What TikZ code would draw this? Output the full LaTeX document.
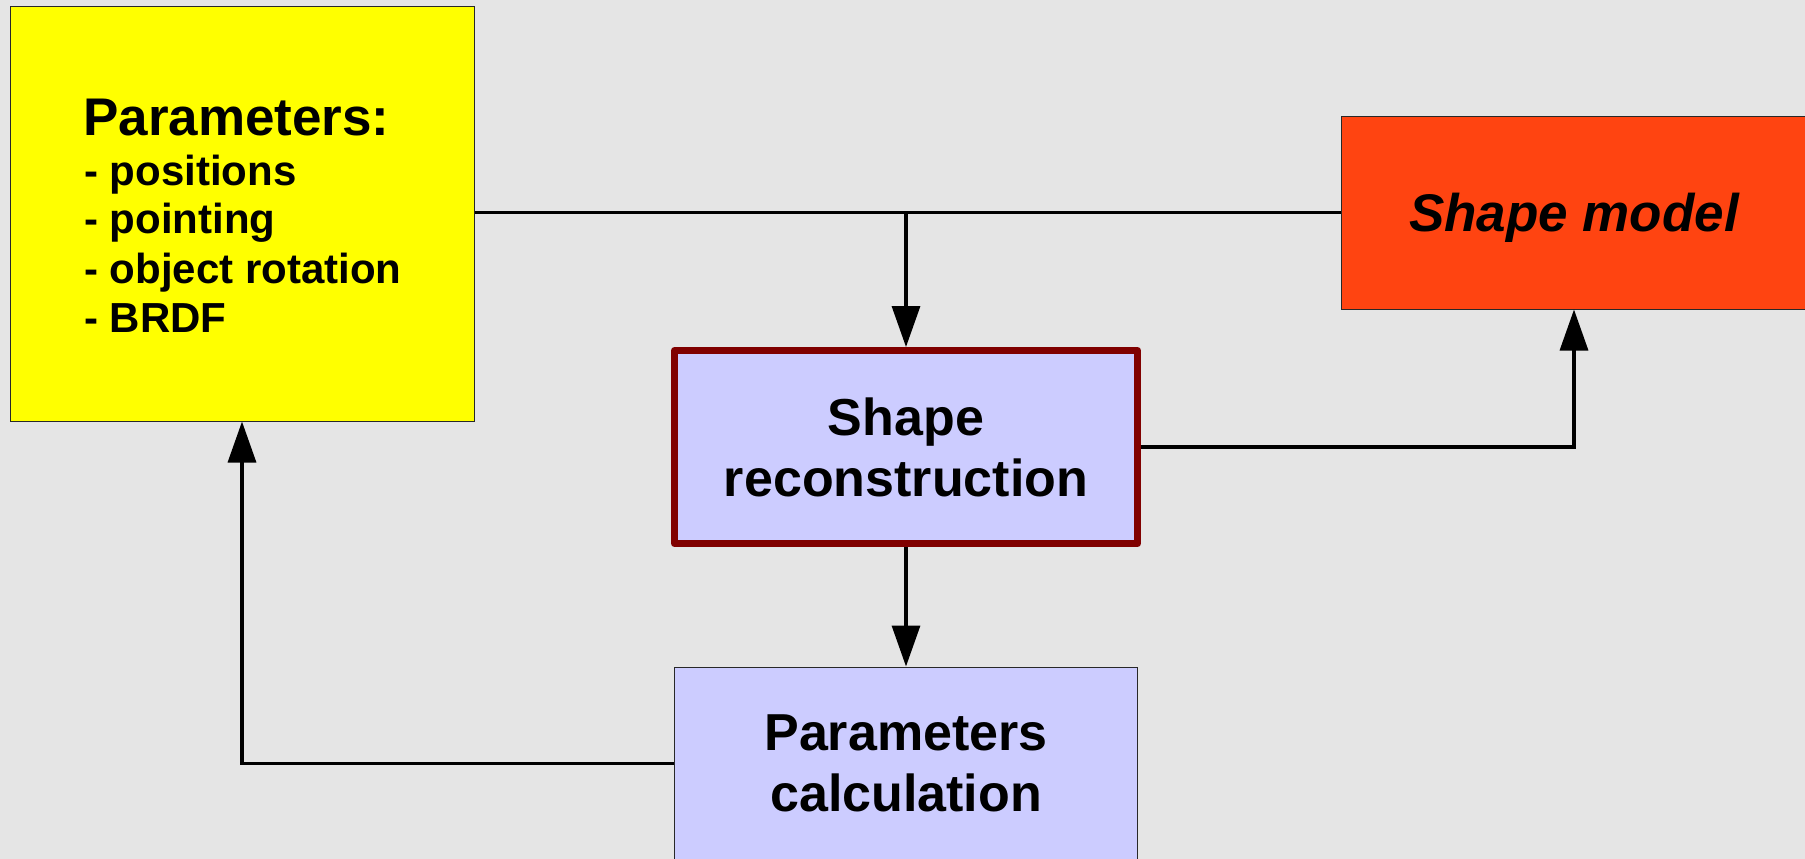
\documentclass[tikz,border=0pt]{standalone}
\usepackage{fontspec}
\setmainfont{Liberation Sans}
\usetikzlibrary{arrows.meta}
\definecolor{bgcol}{RGB}{229,229,229}
\definecolor{yellowbox}{RGB}{255,255,0}
\definecolor{modelcol}{RGB}{255,68,17}
\definecolor{lilac}{RGB}{204,204,255}
\definecolor{darkred}{RGB}{128,0,0}
\definecolor{thinborder}{RGB}{40,40,40}
\tikzset{
  box/.style={draw=thinborder, line width=1pt, inner sep=0pt, align=center,
    font=\bfseries\fontsize{52}{61}\selectfont},
  conn/.style={line width=3.3pt, black},
  arr/.style={conn, -{Triangle[length=41pt,width=28pt]}},
  listline/.style={anchor=base west, inner sep=0pt, font=\bfseries\fontsize{42}{49}\selectfont}
}
\begin{document}
\begin{tikzpicture}[x=1pt,y=-1pt]
\useasboundingbox (0,0) rectangle (1805,859);
\fill[bgcol] (0,0) rectangle (1805,859);

% boxes
\node[box, fill=yellowbox, minimum width=464pt, minimum height=414pt] (params) at (242,214) {};
\node[listline, font=\bfseries\fontsize{53}{61}\selectfont] (ptitle) at (83,135) {Parameters:};
\node[listline] (p1) at (84,185) {- positions};
\node[listline] (p2) at (84,233) {- pointing};
\node[listline] (p3) at (84,283) {- object rotation};
\node[listline] (p4) at (84,332) {- BRDF};

\node[box, fill=modelcol, minimum width=466pt, minimum height=193pt, text depth=0pt,
  font=\bfseries\itshape\fontsize{53}{61}\selectfont] (model) at (1574,212.5) {Shape model};

\node[box, fill=lilac, draw=darkred, line width=7pt, line join=round,
  minimum width=463pt, minimum height=193pt] (recon) at (906,447) {Shape\\reconstruction};

\node[box, fill=lilac, minimum width=463pt, minimum height=193pt] (calc) at (906,763.5) {Parameters\\calculation};

% connectors
\coordinate (junc) at (906,212.5);
\draw[conn] (params.east |- junc) -- (junc);
\draw[conn] (model.west) -- (junc);
\draw[arr] (junc) -- (recon.north);
\draw[arr] (recon.east) -| (model.south);
\draw[arr] (recon.south) -- (calc.north);
\draw[arr] (calc.west) -| (params.south);
\end{tikzpicture}
\end{document}
